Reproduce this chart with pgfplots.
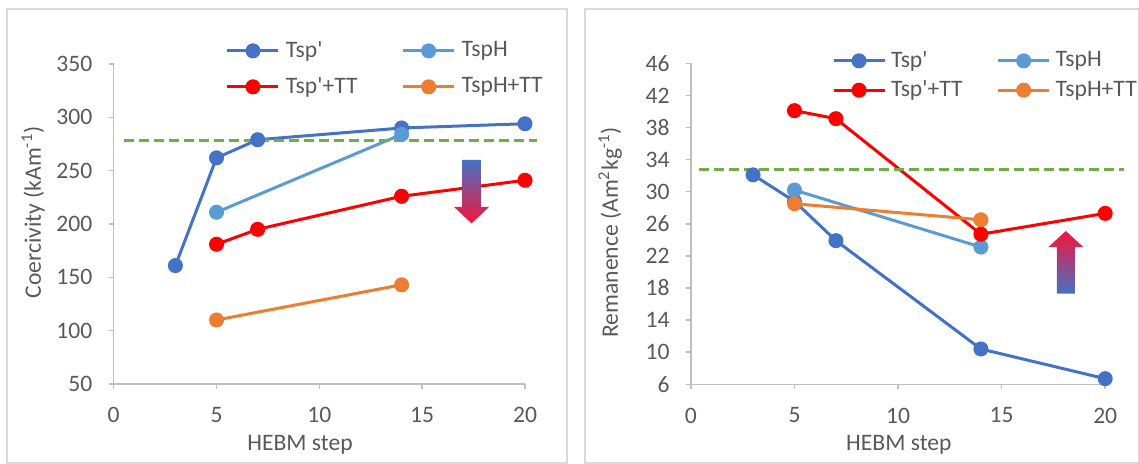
\documentclass[border=0pt]{standalone}
\usepackage{fontspec}
\setmainfont{Carlito}
\usepackage{pgfplots}
\pgfplotsset{compat=1.18}
\definecolor{cA}{HTML}{4472C4}
\definecolor{cB}{HTML}{5B9BD5}
\definecolor{cC}{HTML}{FF0000}
\definecolor{cD}{HTML}{ED7D31}
\definecolor{cG}{HTML}{70AD47}
\definecolor{axc}{HTML}{BFBFBF}
\definecolor{txc}{HTML}{595959}
\definecolor{frc}{HTML}{D9D9D9}
\definecolor{arB}{HTML}{4472C4}
\definecolor{arR}{HTML}{F5143C}
\newcommand{\ap}{\textquotesingle}
\pgfplotsset{
  myax/.style={
    scale only axis,
    axis x line=bottom, axis y line=left,
    axis line style={-, draw=axc, line width=0.75pt},
    tick style={draw=axc, line width=0.75pt},
    tick align=outside,
    major tick length=2.5pt,
    xmin=0, xmax=20, xtick={0,5,10,15,20},
    clip=false,
    font=\fontsize{11.8pt}{14pt}\selectfont,
    tick label style={text=txc},
    label style={text=txc},
    /pgf/number format/assume math mode=true,
    xticklabel style={anchor=north, inner sep=0pt, yshift=-9pt},
    yticklabel style={anchor=east, inner sep=0pt, xshift=-8pt},
    legend cell align=left,
    legend columns=2,
    legend image code/.code={\draw[mark repeat=2, mark phase=2, #1] plot coordinates {(0pt,0pt) (12.75pt,0pt) (25.5pt,0pt)};},
    every axis plot/.append style={line width=1.5pt, mark=*, mark size=3pt, mark options={solid}},
  },
}
\begin{document}
\begin{tikzpicture}
\useasboundingbox (0,0) rectangle (569.5pt,232pt);
\draw[frc, line width=0.6pt] (3.5pt,0.5pt) rectangle (283.5pt,227.5pt);
\draw[frc, line width=0.6pt] (292.5pt,0.5pt) rectangle (569.2pt,227.5pt);
\begin{axis}[myax, at={(56.85pt,40pt)}, anchor=south west, width=205.65pt, height=160pt,
  ymin=50, ymax=350, ytick={50,100,...,350},
  xlabel={HEBM step}, xlabel style={at={(axis description cs:0.453,-0.19)}, anchor=center},
  ylabel={Coercivity (kAm\textsuperscript{-1})}, ylabel style={at={(axis description cs:-0.196,0.536)}, anchor=center},
  legend style={at={(axis description cs:0.273,1.0706)}, anchor=north west, draw=none, fill=none, inner sep=0pt, outer sep=0pt,
    nodes={inner sep=0pt, text=txc}, row sep=8.5pt,
    /tikz/every odd column/.append style={column sep=3pt},
    /tikz/every even column/.append style={column sep=22pt}},
]
\addplot[color=cA] coordinates {(3,161) (5,262) (7,279) (14,290) (20,294)};
\addplot[color=cB] coordinates {(5,211) (14,284)};
\addplot[color=cC] coordinates {(5,181) (7,195) (14,226) (20,241)};
\addplot[color=cD] coordinates {(5,110) (14,143)};
\legend{Tsp\ap,TspH,Tsp\ap+TT,TspH+TT}
\addplot[forget plot, cG, no marks, line width=1.5pt, dash pattern=on 5pt off 2.5pt] coordinates {(0.5,278) (20.6,278)};
\shade[top color=arB, bottom color=arR, draw=none]
  (axis cs:16.94,260) -- (axis cs:17.86,260) -- (axis cs:17.86,216) -- (axis cs:18.25,216)
  -- (axis cs:17.4,200.6) -- (axis cs:16.55,216) -- (axis cs:16.94,216) -- cycle;
\end{axis}
\begin{axis}[myax, at={(345.45pt,39.85pt)}, anchor=south west, width=207.15pt, height=160.5pt,
  ymin=6, ymax=46, ytick={6,10,...,46},
  xlabel={HEBM step}, xlabel style={at={(axis description cs:0.502,-0.189)}, anchor=center},
  ylabel={Remanence (Am\textsuperscript{2}kg\textsuperscript{-1})}, ylabel style={at={(axis description cs:-0.195,0.473)}, anchor=center},
  legend style={at={(axis description cs:0.3406,1.0371)}, anchor=north west, draw=none, fill=none, inner sep=0pt, outer sep=0pt,
    nodes={inner sep=0pt, text=txc}, row sep=5.2pt,
    /tikz/every odd column/.append style={column sep=2.5pt},
    /tikz/every even column/.append style={column sep=17pt}},
]
\addplot[color=cA] coordinates {(3,32.1) (5,28.8) (7,23.9) (14,10.4) (20,6.7)};
\addplot[color=cB] coordinates {(5,30.2) (14,23.1)};
\addplot[color=cC] coordinates {(5,40.1) (7,39.1) (14,24.7) (20,27.3)};
\addplot[color=cD] coordinates {(5,28.5) (14,26.5)};
\legend{Tsp\ap,TspH,Tsp\ap+TT,TspH+TT}
\addplot[forget plot, cG, no marks, line width=1.5pt, dash pattern=on 5pt off 2.5pt] coordinates {(0.4,32.8) (20.9,32.8)};
\shade[top color=arR, bottom color=arB, draw=none]
  (axis cs:17.67,17.3) -- (axis cs:18.53,17.3) -- (axis cs:18.53,23.1) -- (axis cs:18.945,23.1)
  -- (axis cs:18.1,25.1) -- (axis cs:17.255,23.1) -- (axis cs:17.67,23.1) -- cycle;
\end{axis}
\end{tikzpicture}
\end{document}
